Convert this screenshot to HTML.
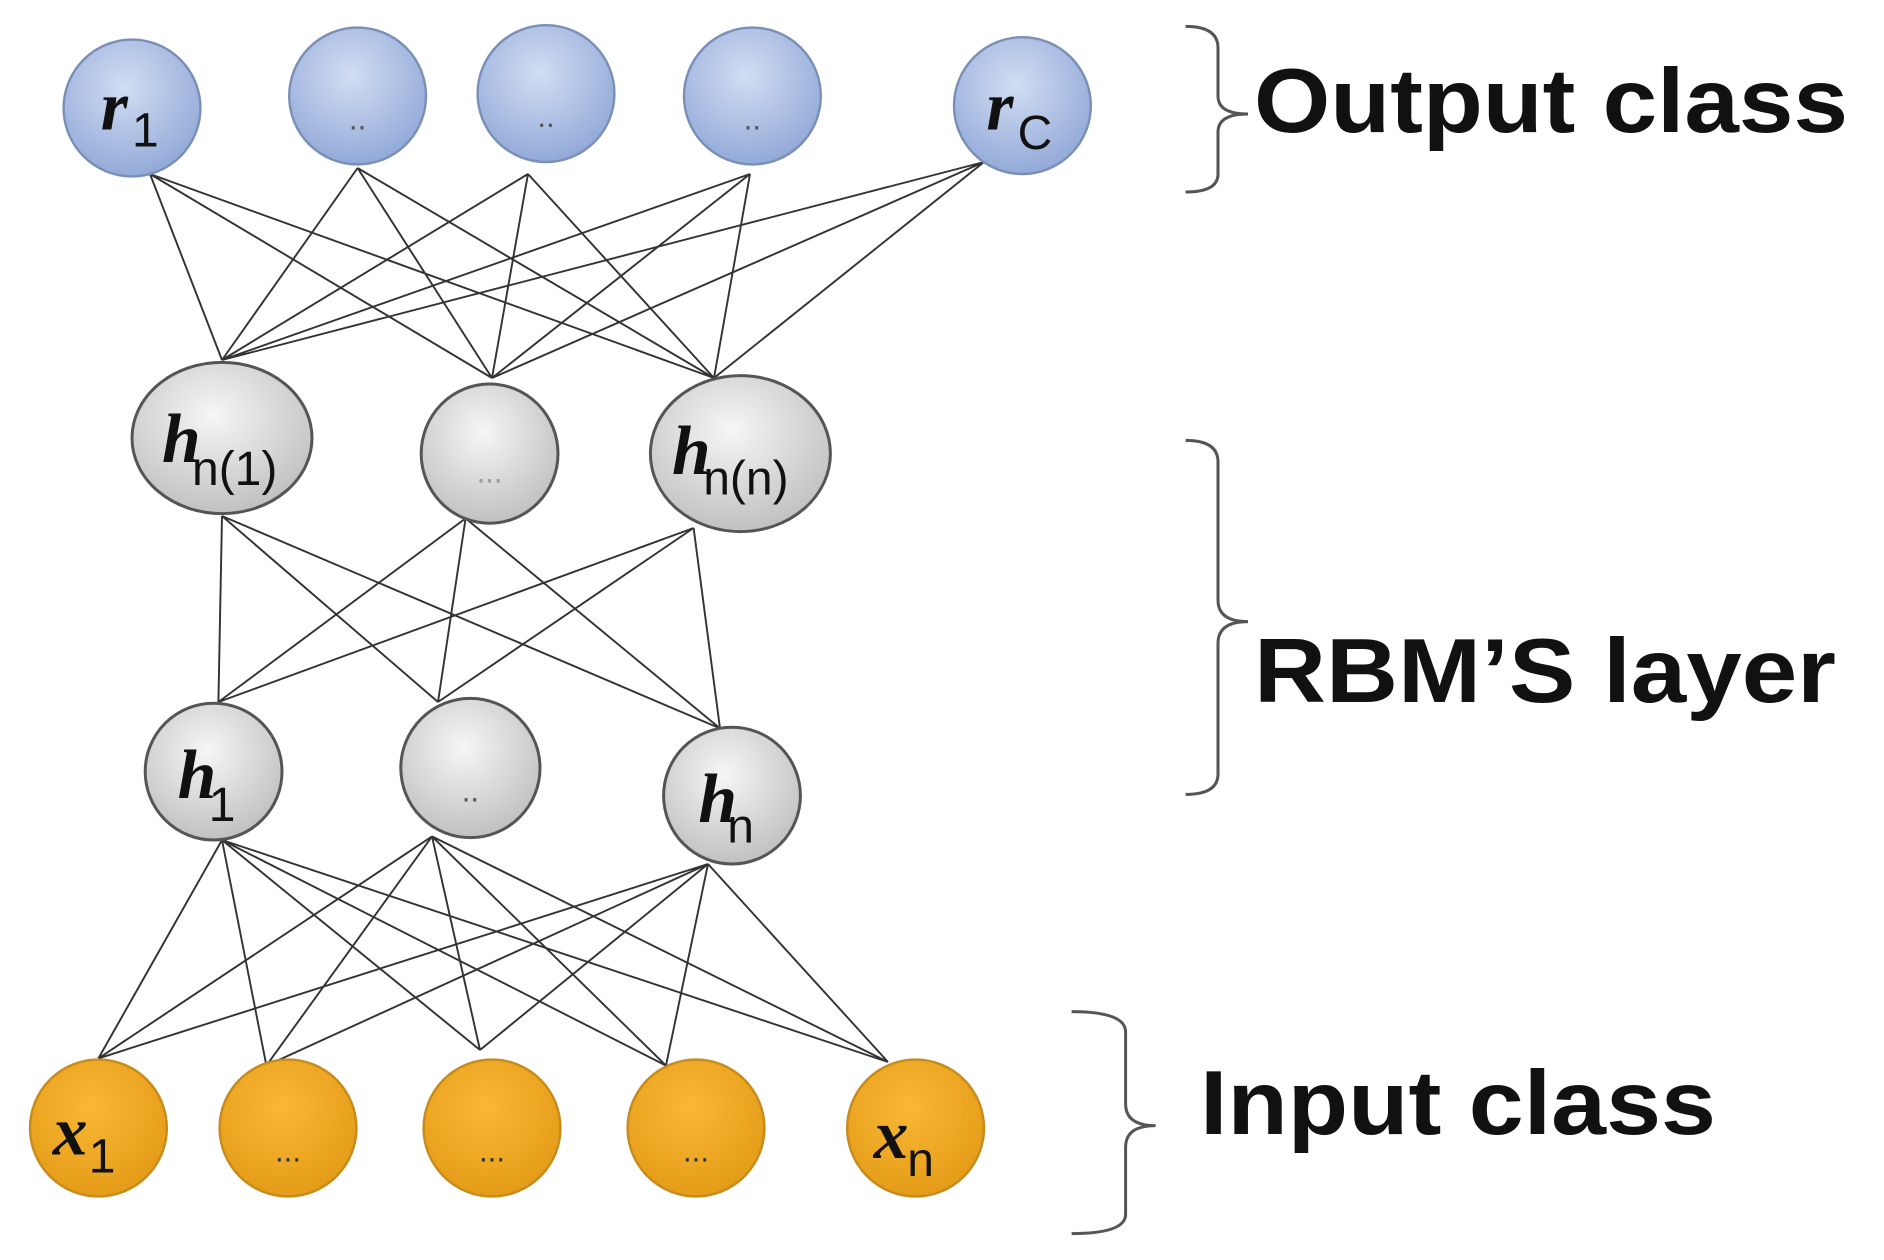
<!DOCTYPE html>
<html><head><meta charset="utf-8"><style>html,body{margin:0;padding:0;background:#fff}svg{display:block}</style></head><body>
<svg width="1884" height="1260" viewBox="0 0 1570 1050" preserveAspectRatio="none" xmlns="http://www.w3.org/2000/svg">
<defs>
<radialGradient id="gb" cx="45%" cy="35%" r="70%"><stop offset="0" stop-color="#d2ddf3"/><stop offset="1" stop-color="#8ea6d6"/></radialGradient>
<radialGradient id="gg" cx="45%" cy="35%" r="70%"><stop offset="0" stop-color="#f6f6f6"/><stop offset="1" stop-color="#bdbdbd"/></radialGradient>
<radialGradient id="go" cx="45%" cy="35%" r="70%"><stop offset="0" stop-color="#f9b835"/><stop offset="1" stop-color="#e39a16"/></radialGradient>
</defs>
<g stroke="#333" stroke-width="1.6" fill="none">
<path d="M125 145L185 300M125 145L410 315M125 145L595 315
M298 140L185 300M298 140L410 315M298 140L595 315
M440 145L185 300M440 145L410 315M440 145L595 315
M625 145L185 300M625 145L410 315M625 145L595 315
M820 135L185 300M820 135L410 315M820 135L595 315"/>
<path d="M185 430L182 585M185 430L365 585M185 430L600 607
M388 432L182 585M388 432L365 585M388 432L600 607
M578 440L182 585M578 440L365 585M578 440L600 607"/>
<path d="M185 700L82 882M185 700L222 888M185 700L400 875M185 700L555 888M185 700L740 885
M360 697L82 882M360 697L222 888M360 697L400 875M360 697L555 888M360 697L740 885
M590 720L82 882M590 720L222 888M590 720L400 875M590 720L555 888M590 720L740 885"/>
</g>
<g stroke="#7a8fb8" stroke-width="2" fill="url(#gb)">
<circle cx="110" cy="90" r="57"/><circle cx="298" cy="80" r="57"/><circle cx="455" cy="78" r="57"/><circle cx="627" cy="80" r="57"/><circle cx="852" cy="88" r="57"/>
</g>
<g stroke="#555" stroke-width="2.5" fill="url(#gg)">
<ellipse cx="185" cy="365" rx="75" ry="63"/><ellipse cx="408" cy="378" rx="57" ry="58"/><ellipse cx="617" cy="378" rx="75" ry="65"/>
<circle cx="178" cy="643" r="57"/><circle cx="392" cy="640" r="58"/><circle cx="610" cy="663" r="57"/>
</g>
<g stroke="#c88a1a" stroke-width="2" fill="url(#go)">
<circle cx="82" cy="940" r="57"/><circle cx="240" cy="940" r="57"/><circle cx="410" cy="940" r="57"/><circle cx="580" cy="940" r="57"/><circle cx="763" cy="940" r="57"/>
</g>
<g font-family="Liberation Serif, serif" font-style="italic" font-weight="bold" font-size="58" fill="#111">
<text x="84" y="108">r</text><text x="822" y="108">r</text>
<text x="135" y="385">h</text><text x="560" y="395">h</text>
<text x="148" y="665">h</text><text x="582" y="685">h</text>
<text x="44" y="962">x</text><text x="728" y="965">x</text>
</g>
<g font-family="Liberation Sans, sans-serif" font-size="40" fill="#111">
<text x="110" y="122">1</text><text x="848" y="124">C</text>
<text x="160" y="404">n(1)</text><text x="586" y="412">n(n)</text>
<text x="174" y="684">1</text><text x="606" y="702">n</text>
<text x="74" y="977">1</text><text x="756" y="980">n</text>
</g>
<g font-family="Liberation Sans, sans-serif" font-size="26" fill="#555" text-anchor="middle">
<text x="298" y="108">..</text><text x="455" y="106">..</text><text x="627" y="108">..</text>
<text x="408" y="402" fill="#999">...</text><text x="392" y="668">..</text>
<text x="240" y="968" fill="#333">...</text><text x="410" y="968" fill="#333">...</text><text x="580" y="968" fill="#333">...</text>
</g>
<g stroke="#555" stroke-width="2.5" fill="none">
<path d="M988 22Q1015 22 1015 40L1015 80Q1015 95 1040 95Q1015 95 1015 110L1015 145Q1015 160 988 160"/>
<path d="M988 367Q1015 367 1015 385L1015 500Q1015 518 1040 518Q1015 518 1015 536L1015 645Q1015 662 988 662"/>
<path d="M893 843Q938 843 938 860L938 920Q938 938 963 938Q938 938 938 956L938 1012Q938 1028 893 1028"/>
</g>
<g font-family="Liberation Sans, sans-serif" font-weight="bold" font-size="76" fill="#111">
<text x="1045" y="110" textLength="495" lengthAdjust="spacingAndGlyphs">Output class</text>
<text x="1045" y="585" textLength="485" lengthAdjust="spacingAndGlyphs">RBM’S layer</text>
<text x="1000" y="945" textLength="430" lengthAdjust="spacingAndGlyphs">Input class</text>
</g>
</svg>
</body></html>
